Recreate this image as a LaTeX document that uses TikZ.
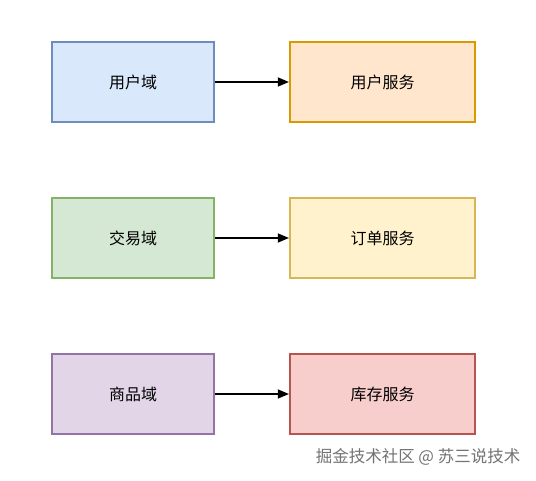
\documentclass[tikz,border=0pt]{standalone}
\usepackage{fontspec}
\setmainfont{Noto Sans CJK SC}
\usetikzlibrary{arrows.meta}
\definecolor{bfill}{HTML}{DAE8FC}\definecolor{bline}{HTML}{6C8EBF}
\definecolor{ofill}{HTML}{FFE6CC}\definecolor{oline}{HTML}{D79B00}
\definecolor{gfill}{HTML}{D5E8D4}\definecolor{gline}{HTML}{82B366}
\definecolor{yfill}{HTML}{FFF2CC}\definecolor{yline}{HTML}{D6B656}
\definecolor{pfill}{HTML}{E1D5E7}\definecolor{pline}{HTML}{9673A6}
\definecolor{rfill}{HTML}{F8CECC}\definecolor{rline}{HTML}{B85450}
\begin{document}
\begin{tikzpicture}[x=1pt,y=1pt,
  box/.style={draw, line width=2.2pt, minimum height=80pt, font=\fontsize{16}{18}\selectfont, inner sep=0pt},
  lbox/.style={box, minimum width=162pt},
  rbox/.style={box, minimum width=185pt},
  conn/.style={-{Triangle[length=11pt,width=9pt]}, line width=1.3pt}]
\fill[white] (0,0) rectangle (536,480);
\useasboundingbox (0,0) rectangle (536,480);
\node[lbox, fill=bfill, draw=bline] (a1) at (133,398) {用户域};
\node[rbox, fill=ofill, draw=oline] (b1) at (382.5,398) {用户服务};
\node[lbox, fill=gfill, draw=gline] (a2) at (133,242) {交易域};
\node[rbox, fill=yfill, draw=yline] (b2) at (382.5,242) {订单服务};
\node[lbox, fill=pfill, draw=pline] (a3) at (133,86) {商品域};
\node[rbox, fill=rfill, draw=rline] (b3) at (382.5,86) {库存服务};
\draw[conn] (a1) -- (b1);
\draw[conn] (a2) -- (b2);
\draw[conn] (a3) -- (b3);
\node[text=black!55, font=\fontsize{16.5}{18}\selectfont] (wm) at (418,23) {掘金技术社区 @ 苏三说技术};
\end{tikzpicture}
\end{document}
